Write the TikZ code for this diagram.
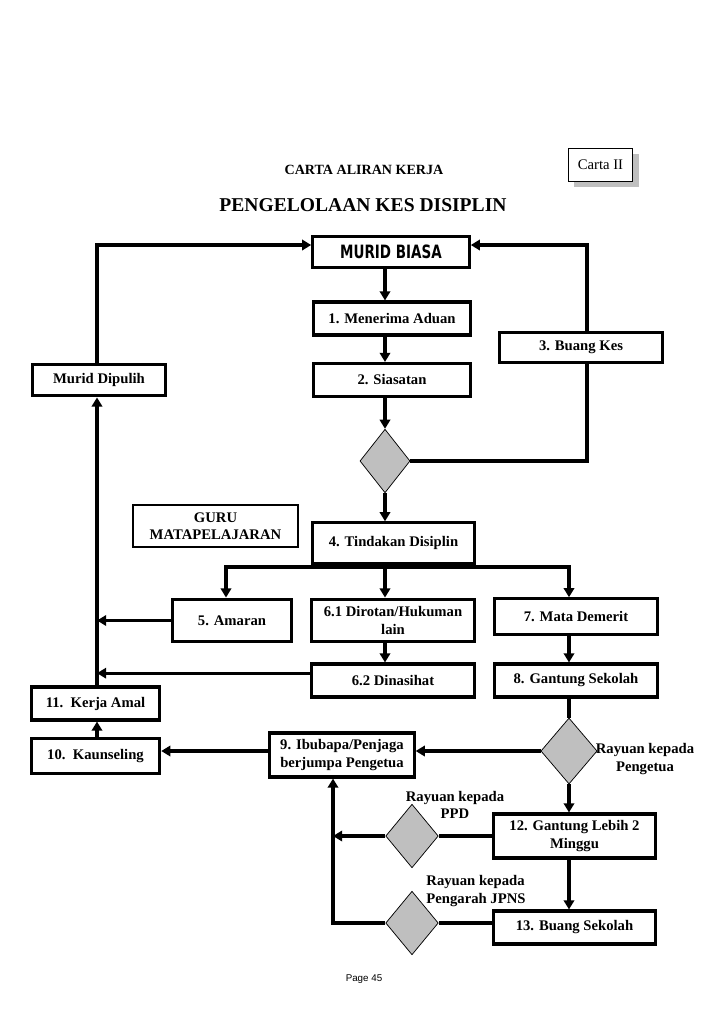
\documentclass[tikz,border=0pt]{standalone}
\usepackage{graphicx}
\usepackage{fontspec}
\setmainfont{Liberation Serif}
\setsansfont{Liberation Sans}
\newfontfamily\heavyfont{DejaVu Sans}
\usetikzlibrary{shapes,shadows,arrows.meta}

\begin{document}
\begin{tikzpicture}[x=0.8178pt,y=-0.8178pt,>={Triangle[length=7.5pt,width=8.5pt]},
    box/.style={draw, line width=2.5pt, fill=white, align=center, inner sep=2pt, font=\fontsize{12}{14}\selectfont\bfseries},
    flow/.style={line width=2.5pt}]
        \tikzstyle{decision} = [draw, diamond, fill=gray!50, line width=0.6pt, inner sep=0pt]
        \tikzstyle{note} = [align=center, inner sep=0pt, font=\fontsize{12}{14.5}\selectfont\bfseries]
        \useasboundingbox (0,0) rectangle (728,1031);

        % headings
        \node[font=\fontsize{11.5}{13}\selectfont\bfseries] (carta) at (364,170) {CARTA ALIRAN KERJA};
        \node[draw, line width=0.8pt, fill=white, minimum width=53pt, minimum height=27pt, font=\fontsize{12}{14}\selectfont,
              drop shadow={shadow xshift=5pt, shadow yshift=-5pt, fill=gray!50, opacity=1}] (cartaii) at (600.5,164.5) {Carta II};
        \node[font=\fontsize{16}{18}\selectfont\bfseries] (judul) at (363,205) {PENGELOLAAN KES DISIPLIN};

        % boxes
        \node[box, minimum width=128pt, minimum height=25pt] (murid) at (391,252) {\heavyfont\bfseries\scalebox{0.92}[1.25]{MURID BIASA}};
        \node[box, minimum width=129pt, minimum height=27pt] (aduan) at (392,318.5) {1. Menerima Aduan};
        \node[box, minimum width=129pt, minimum height=27pt] (siasatan) at (392,380) {2. Siasatan};
        \node[box, minimum width=134pt, minimum height=24pt] (buangkes) at (581,347.5) {3. Buang Kes};
        \node[box, minimum width=108pt, minimum height=26pt] (dipulih) at (99,380) {Murid Dipulih};
        \node[decision, minimum width=41pt, minimum height=52pt] (d1) at (385,461) {};
        \node[box, line width=1.5pt, minimum width=135pt, minimum height=34pt] (guru) at (215.5,526) {GURU\\MATAPELAJARAN};
        \node[box, minimum width=133pt, minimum height=33pt] (tindakan) at (393.5,543) {4. Tindakan Disiplin};
        \node[box, minimum width=98pt, minimum height=35pt] (amaran) at (232,620.5) {5. Amaran};
        \node[box, minimum width=134pt, minimum height=35pt] (dirotan) at (393,620.5) {6.1 Dirotan/Hukuman\\lain};
        \node[box, minimum width=134pt, minimum height=29pt] (demerit) at (576,616.5) {7. Mata Demerit};
        \node[box, minimum width=134pt, minimum height=27pt] (dinasihat) at (393,680.5) {6.2 Dinasihat};
        \node[box, minimum width=134pt, minimum height=27pt] (gantung) at (576,680.5) {8. Gantung Sekolah};
        \node[box, minimum width=105pt, minimum height=27pt] (kerjaamal) at (95.5,703.5) {11.\ \ Kerja Amal};
        \node[box, minimum width=105pt, minimum height=28pt] (kaunseling) at (95.5,756) {10.\ \ Kaunseling};
        \node[box, minimum width=118pt, minimum height=36pt] (ibubapa) at (342,755) {9. Ibubapa/Penjaga\\berjumpa Pengetua};
        \node[decision, minimum width=46pt, minimum height=54pt] (d2) at (569,751) {};
        \node[box, minimum width=133pt, minimum height=36pt] (lebih) at (574.5,836) {12. Gantung Lebih 2\\Minggu};
        \node[decision, minimum width=43pt, minimum height=52pt] (d3) at (412,836) {};
        \node[box, minimum width=133pt, minimum height=27pt] (buangsek) at (574.5,927.5) {13. Buang Sekolah};
        \node[decision, minimum width=43pt, minimum height=52pt] (d4) at (412,923) {};

        \node[note] (rayuan2) at (645,759) {Rayuan kepada\\Pengetua};
        \node[note] (rayuan3) at (455,805) {Rayuan kepada\\PPD};
        \node[note, align=left] (rayuan4) at (476,891) {Rayuan kepada\\Pengarah JPNS};

        \node[font=\sffamily\fontsize{8}{9}\selectfont] (page) at (364,979) {Page 45};

        % turning points
        \coordinate (ltop) at (97,245);
        \coordinate (rtop) at (587,245);
        \coordinate (brl) at (226,567);
        \coordinate (brr) at (569,567);
        \coordinate (lbot) at (333,923);
        \coordinate (nasihat) at ([yshift=6pt]dinasihat.west);

        \draw [flow,->] (d1 |- murid.south) -- (d1 |- aduan.north);
        \draw [flow,->] (d1 |- aduan.south) -- (d1 |- siasatan.north);
        \draw [flow,->] (d1 |- siasatan.south) -- (d1.north);
        \draw [flow,->] (d1.south) -- (d1 |- tindakan.north);
        \draw [flow] (d1.east) -| (rtop |- buangkes.south);
        \draw [flow,->] (rtop |- buangkes.north) -- (rtop) -- (rtop -| murid.east);
        \draw [flow,->] (ltop |- dipulih.north) -- (ltop) -- (ltop -| murid.west);
        \draw [flow,->] (ltop |- kerjaamal.north) -- (ltop |- dipulih.south);
        \draw [flow,->] (brl -| d1) -| (brl |- amaran.north);
        \draw [flow,->] (brl -| d1) -| (brr |- demerit.north);
        \draw [flow,->] (d1 |- tindakan.south) -- (d1 |- dirotan.north);
        \draw [flow,->] (d1 |- dirotan.south) -- (d1 |- dinasihat.north);
        \draw [flow,->] (amaran.west) -- (ltop |- amaran.west);
        \draw [flow,->] (nasihat) -- (ltop |- nasihat);
        \draw [flow,->] (brr |- demerit.south) -- (brr |- gantung.north);
        \draw [flow] (brr |- gantung.south) -- (d2.north);
        \draw [flow,->] (d2.west) -- (ibubapa.east |- d2.west);
        \draw [flow,->] (ibubapa.west |- d2.west) -- (kaunseling.east |- d2.west);
        \draw [flow,->] (ltop |- kaunseling.north) -- (ltop |- kerjaamal.south);
        \draw [flow,->] (d2.south) -- (d2 |- lebih.north);
        \draw [flow,->] (d2 |- lebih.south) -- (d2 |- buangsek.north);
        \draw [flow] (lebih.west |- d3.east) -- (d3.east);
        \draw [flow,->] (d3.west) -- (lbot |- d3.west);
        \draw [flow] (buangsek.west |- d4.east) -- (d4.east);
        \draw [flow,->] (d4.west) -- (lbot) -- (lbot |- ibubapa.south);
        \end{tikzpicture}
\end{document}
